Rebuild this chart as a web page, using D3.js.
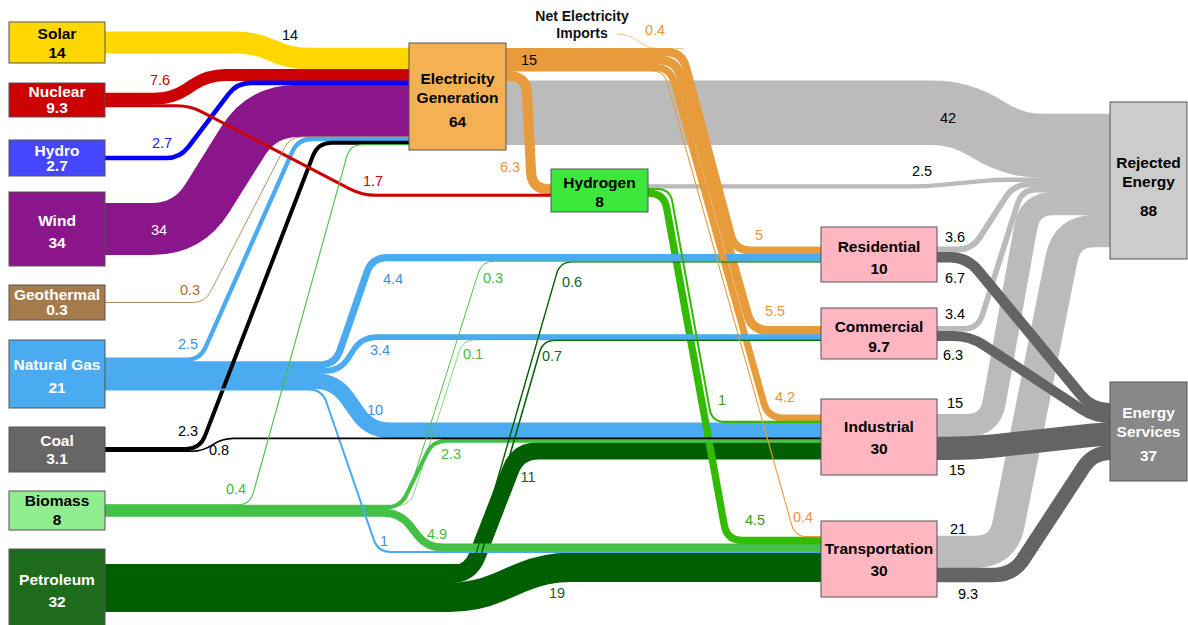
<!DOCTYPE html>
<html>
<head>
<meta charset="utf-8">
<script src="https://cdn.jsdelivr.net/npm/d3@7"></script>
<style>
  body { margin: 0; background: #fff; }
  svg { display: block; font-family: "Liberation Sans", Arial, sans-serif; }
</style>
</head>
<body>
<div id="chart"></div>
<script>
const W = 1188, H = 625;

// ---- data ----
const nodeNames = ["Solar", "Nuclear", "Hydro", "Wind", "Geothermal", "Natural Gas", "Coal", "Biomass", "Petroleum",
  "Electricity Generation", "Hydrogen", "Residential", "Commercial", "Industrial", "Transportation",
  "Rejected Energy", "Energy Services"];
const nodeValues = [14, 9.3, 2.7, 34, 0.3, 21, 3.1, 8, 32, 64, 8, 10, 9.7, 30, 30, 88, 37];

const flows = [
  ["Solar", "Electricity Generation", 14],
  ["Nuclear", "Electricity Generation", 7.6],
  ["Nuclear", "Hydrogen", 1.7],
  ["Hydro", "Electricity Generation", 2.7],
  ["Wind", "Electricity Generation", 34],
  ["Geothermal", "Electricity Generation", 0.3],
  ["Natural Gas", "Electricity Generation", 2.5],
  ["Natural Gas", "Residential", 4.4],
  ["Natural Gas", "Commercial", 3.4],
  ["Natural Gas", "Industrial", 10],
  ["Natural Gas", "Transportation", 1],
  ["Coal", "Electricity Generation", 2.3],
  ["Coal", "Industrial", 0.8],
  ["Biomass", "Electricity Generation", 0.4],
  ["Biomass", "Residential", 0.3],
  ["Biomass", "Commercial", 0.1],
  ["Biomass", "Industrial", 2.3],
  ["Biomass", "Transportation", 4.9],
  ["Petroleum", "Residential", 0.6],
  ["Petroleum", "Commercial", 0.7],
  ["Petroleum", "Industrial", 11],
  ["Petroleum", "Transportation", 19],
  ["Electricity Generation", "Residential", 5],
  ["Electricity Generation", "Commercial", 5.5],
  ["Electricity Generation", "Industrial", 4.2],
  ["Electricity Generation", "Transportation", 0.4],
  ["Electricity Generation", "Hydrogen", 6.3],
  ["Electricity Generation", "Rejected Energy", 42],
  ["Hydrogen", "Rejected Energy", 2.5],
  ["Hydrogen", "Industrial", 1],
  ["Hydrogen", "Transportation", 4.5],
  ["Residential", "Rejected Energy", 3.6],
  ["Residential", "Energy Services", 6.7],
  ["Commercial", "Rejected Energy", 3.4],
  ["Commercial", "Energy Services", 6.3],
  ["Industrial", "Rejected Energy", 15],
  ["Industrial", "Energy Services", 15],
  ["Transportation", "Rejected Energy", 21],
  ["Transportation", "Energy Services", 9.3]
];
const importLabel = ["Net Electricity", "Imports"];
const importValue = 0.4;

// ---- layout ----
const columnX = [[9, 105], [409, 506], [551, 648], [821, 937], [1110, 1187]];
// column, top, bottom, gap before value line, text shift
const nodeBox = {
  "Solar": [0, 22, 63, 19, 1],
  "Nuclear": [0, 83, 117, 16, 0],
  "Hydro": [0, 140, 176, 15, 0],
  "Wind": [0, 192, 266, 22, 3],
  "Geothermal": [0, 285, 320, 15, 0],
  "Natural Gas": [0, 340, 408, 23, 2.5],
  "Coal": [0, 427, 472, 18, 0],
  "Biomass": [0, 491, 530, 19, 0],
  "Petroleum": [0, 549, 627, 22, 3],
  "Electricity Generation": [1, 43, 150, 24, 3.5],
  "Hydrogen": [2, 169, 212, 19, 2],
  "Residential": [3, 227, 282, 22, 3.5],
  "Commercial": [3, 308, 359, 20, 3.5],
  "Industrial": [3, 399, 475, 22, 1],
  "Transportation": [3, 521, 597, 22, 1],
  "Rejected Energy": [4, 102, 259, 29, 6],
  "Energy Services": [4, 382, 481, 24, 2.5]
};
const nameLines = { "Electricity Generation": ["Electricity", "Generation"], "Rejected Energy": ["Rejected", "Energy"], "Energy Services": ["Energy", "Services"] };

// per flow: x where the diagonal starts / ends, label anchor ("s" start of diagonal, "t" end) and offset
const routes = [
  [255, 290, "t", 0, -24],
  [172, 208, "s", -12, -19],
  [190, 362, "t", 11, -14],
  [180, 237, "s", -18, -15],
  [188, 262, "s", -29, 1],
  [205, 290, "s", -15, -13],
  [200, 298, "s", -12, -16],
  [335, 372, "t", 21, 21],
  [340, 362, "t", 18, 13],
  [335, 370, "t", 5, -20],
  [322, 378, "t", 6, -11],
  [200, 318, "s", -12, -18],
  [203, 222, "t", -3, 11],
  [250, 350, "s", -14, -16],
  [405, 482, "t", 11, 17],
  [410, 463, "t", 10, 14],
  [400, 433, "t", 18, 13],
  [400, 427, "t", 10, -14],
  [473, 560, "t", 12, 20],
  [478, 543, "t", 9, 16],
  [470, 518, "t", 10, 26],
  [475, 545, "t", 12, 26],
  [682, 735, "t", 24, -16],
  [676, 752, "t", 23, -19],
  [670, 768, "t", 17, -21],
  [664, 795, "t", 8, -20],
  [526, 532, "t", -22, -22],
  [962, 1013, "s", -14, 5],
  [925, 995, "s", -3, -15],
  [670, 712, "t", 10, -22],
  [664, 727, "t", 28, -20],
  [972, 1014, "s", -17, -12],
  [967, 1092, "s", -12, 21],
  [978, 1022, "s", -23, -15],
  [970, 1095, "s", -17, 19],
  [990, 1030, "s", -35, -23],
  [972, 1100, "s", -15, 22],
  [1003, 1067, "s", -45, -23],
  [1013, 1093, "s", -45, 19]
];
const inOrder = { "Transportation": ["Electricity Generation", "Hydrogen", "Biomass", "Natural Gas", "Petroleum"] };

// ---- styles ----
const nodeFill = {
  "Solar": "#FFD700", "Nuclear": "#CC0000", "Hydro": "#4646FF", "Wind": "#8B168B", "Geothermal": "#A67B4B",
  "Natural Gas": "#4AABF0", "Coal": "#666666", "Biomass": "#90EE90", "Petroleum": "#1E6B1E",
  "Electricity Generation": "#F4B153", "Hydrogen": "#3DE83D", "Residential": "#FFB6C1", "Commercial": "#FFB6C1",
  "Industrial": "#FFB6C1", "Transportation": "#FFB6C1", "Rejected Energy": "#CCCCCC", "Energy Services": "#888888"
};
const darkNodes = ["Nuclear", "Hydro", "Wind", "Geothermal", "Natural Gas", "Coal", "Petroleum", "Energy Services"];
const flowColor = {
  "Solar": "#FFD700", "Nuclear": "#CC0000", "Hydro": "#0000FF", "Wind": "#8B168B", "Geothermal": "#B08A5E",
  "Natural Gas": "#4AABF0", "Coal": "#000000", "Biomass": "#44C044", "Petroleum": "#005F00",
  "Electricity Generation": "#E89B3A", "Hydrogen": "#33BB00"
};
const labelColor = {
  "Solar": "#000", "Nuclear": "#CC0000", "Hydro": "#2020F0", "Wind": "#fff", "Geothermal": "#A0703C",
  "Natural Gas": "#3D8FE8", "Coal": "#000", "Biomass": "#44BB44", "Petroleum": "#155E2E",
  "Electricity Generation": "#E8963A", "Hydrogen": "#3A9A18"
};

const width = d3.scaleLinear().domain([0, 88]).range([0, 88 * 1.52]);

const svg = d3.select("#chart").append("svg")
  .attr("width", W).attr("height", H);
svg.append("rect").attr("width", W).attr("height", H).attr("fill", "#fff");

// build nodes and links
const nodes = new Map(nodeNames.map((name, i) => {
  const [col, y0, y1, gap, shift] = nodeBox[name];
  return [name, { name, value: nodeValues[i], x0: columnX[col][0], x1: columnX[col][1], y0, y1, gap, shift, out: [], in: [] }];
}));
const links = flows.map(([s, t, v], i) => {
  const l = { source: nodes.get(s), target: nodes.get(t), value: v, w: width(v), route: routes[i] };
  l.source.out.push(l);
  l.target.in.push(l);
  return l;
});

function stack(n, arr, key) {
  const total = d3.sum(arr, l => l.w);
  let y = (n.y0 + n.y1) / 2 - total / 2;
  arr.forEach(l => { l[key] = y + l.w / 2; y += l.w; });
}
nodes.forEach(n => {
  stack(n, n.out, "sy");
  const order = inOrder[n.name];
  const ins = n.in.slice().sort((a, b) => order
    ? order.indexOf(a.source.name) - order.indexOf(b.source.name)
    : (a.source.y0 + a.source.y1) - (b.source.y0 + b.source.y1));
  stack(n, ins, "ty");
});

// polyline with rounded corners
function routePath(pts, r) {
  const p = d3.path();
  p.moveTo(pts[0][0], pts[0][1]);
  for (let i = 1; i < pts.length - 1; i++) {
    const [x0, y0] = pts[i - 1], [x1, y1] = pts[i], [x2, y2] = pts[i + 1];
    const d1 = Math.hypot(x1 - x0, y1 - y0), d2 = Math.hypot(x2 - x1, y2 - y1);
    const rr = Math.min(r, i === 1 ? d1 : d1 / 2, i === pts.length - 2 ? d2 : d2 / 2);
    p.lineTo(x1 - (x1 - x0) / d1 * rr, y1 - (y1 - y0) / d1 * rr);
    p.quadraticCurveTo(x1, y1, x1 + (x2 - x1) / d2 * rr, y1 + (y2 - y1) / d2 * rr);
  }
  const last = pts[pts.length - 1];
  p.lineTo(last[0], last[1]);
  return p.toString();
}

function linkPoints(l) {
  const [bx0, bx1] = l.route;
  return [[l.source.x1, l.sy], [bx0, l.sy], [bx1, l.ty], [l.target.x0, l.ty]];
}
function linkColor(l) {
  if (l.target.name === "Rejected Energy") return "#BBBBBB";
  if (l.target.name === "Energy Services") return "#646464";
  return flowColor[l.source.name];
}
function layer(l) {
  if (l.target.name === "Rejected Energy") return 0;
  if (l.target.name === "Energy Services") return 2;
  return 1;
}

const drawOrder = links.slice().sort((a, b) => layer(a) - layer(b) || b.value - a.value);

// a little extra width so neighbouring strands close up without seams
svg.append("g")
  .selectAll("path")
  .data(drawOrder)
  .join("path")
  .attr("d", l => routePath(linkPoints(l), Math.min(36, 12 + l.w / 2)))
  .attr("fill", "none")
  .attr("stroke", linkColor)
  .attr("stroke-width", l => l.w + 0.5)
  .attr("stroke-linecap", "butt");

// net electricity imports joining the electricity bundle
const elec = nodes.get("Electricity Generation");
const bundleTop = elec.out[0].sy - elec.out[0].w / 2;
const importPos = [582, 16];
const wImp = width(importValue);
svg.append("path")
  .attr("d", routePath([[importPos[0] + 35, importPos[1] + 18], [628, importPos[1] + 18], [648, bundleTop + wImp / 2], [684, bundleTop + wImp / 2]], 12))
  .attr("fill", "none")
  .attr("stroke", flowColor["Electricity Generation"])
  .attr("stroke-width", wImp);

// nodes
const ng = svg.append("g")
  .selectAll("g")
  .data(Array.from(nodes.values()))
  .join("g");
ng.append("rect")
  .attr("x", n => n.x0)
  .attr("y", n => n.y0)
  .attr("width", n => n.x1 - n.x0)
  .attr("height", n => n.y1 - n.y0)
  .attr("fill", n => nodeFill[n.name])
  .attr("stroke", "#555")
  .attr("stroke-width", 1);
ng.each(function(n) {
  const names = nameLines[n.name] || [n.name];
  const lh = 18.5;
  const block = (names.length - 1) * lh + n.gap;
  const top = (n.y0 + n.y1) / 2 - block / 2 + n.shift;
  const cx = (n.x0 + n.x1) / 2;
  const t = d3.select(this).append("text")
    .attr("text-anchor", "middle")
    .attr("font-size", "15.5px")
    .attr("font-weight", "bold")
    .attr("fill", darkNodes.includes(n.name) ? "#fff" : "#000");
  names.forEach((s, i) => t.append("tspan").attr("x", cx).attr("y", top + i * lh).attr("dy", "0.35em").text(s));
  t.append("tspan").attr("x", cx).attr("y", top + block).attr("dy", "0.35em").text(n.value);
});

// flow labels
function labelColorOf(l) {
  if (l.target.name === "Rejected Energy" || l.target.name === "Energy Services") return "#000";
  return labelColor[l.source.name];
}
svg.append("g")
  .selectAll("text")
  .data(links)
  .join("text")
  .attr("x", l => (l.route[2] === "s" ? l.route[0] : l.route[1]) + l.route[3])
  .attr("y", l => (l.route[2] === "s" ? l.sy : l.ty) + l.route[4])
  .attr("dy", "0.35em")
  .attr("text-anchor", "middle")
  .attr("font-size", "14.5px")
  .attr("fill", labelColorOf)
  .text(l => l.value);

// bundle total out of electricity generation toward end uses
const endUses = ["Residential", "Commercial", "Industrial", "Transportation"];
const bundle = elec.out.filter(l => endUses.includes(l.target.name));
const bundleBottom = d3.max(bundle, l => l.sy + l.w / 2);
svg.append("text")
  .attr("x", elec.x1 + 23)
  .attr("y", (bundleTop + bundleBottom) / 2)
  .attr("dy", "0.35em")
  .attr("text-anchor", "middle")
  .attr("font-size", "14.5px")
  .attr("fill", "#000")
  .text(d3.format(".2~r")(d3.sum(bundle, l => l.value)));

// imports labels
const imp = svg.append("text")
  .attr("text-anchor", "middle")
  .attr("font-size", "14px")
  .attr("font-weight", "bold")
  .attr("fill", "#111");
importLabel.forEach((s, i) => imp.append("tspan").attr("x", importPos[0]).attr("y", importPos[1] + i * 17).attr("dy", "0.35em").text(s));
svg.append("text")
  .attr("x", importPos[0] + 73)
  .attr("y", importPos[1] + 14)
  .attr("dy", "0.35em")
  .attr("text-anchor", "middle")
  .attr("font-size", "14.5px")
  .attr("fill", labelColor["Electricity Generation"])
  .text(importValue);
</script>
</body>
</html>
